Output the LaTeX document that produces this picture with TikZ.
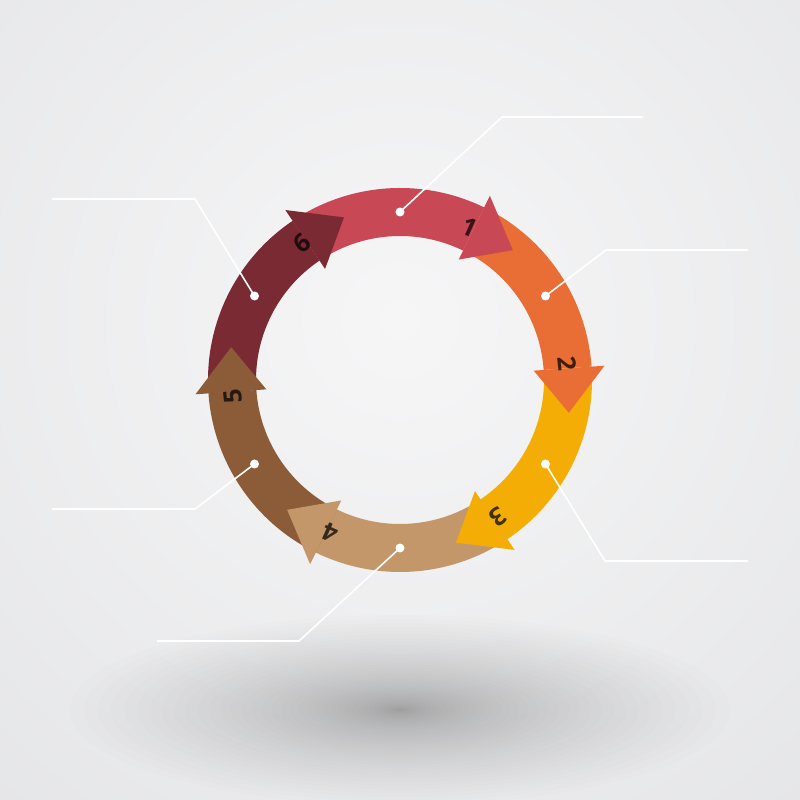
\documentclass[tikz,border=0pt]{standalone}
\usepackage{fontspec}
\newfontfamily\numfont{Open Sans}
\definecolor{bgin}{HTML}{F6F6F7}
\definecolor{bgout}{HTML}{D9DADC}
\definecolor{cA}{HTML}{C94855}
\definecolor{cB}{HTML}{E96E35}
\definecolor{cC}{HTML}{F4AD05}
\definecolor{cD}{HTML}{C4976B}
\definecolor{cE}{HTML}{8C5B38}
\definecolor{cF}{HTML}{7A2A33}
\tikzset{
  dotmark/.style={circle, fill=white, inner sep=0pt, minimum size=9pt},
  leader/.style={draw=white, line width=1.6pt},
  numlabel/.style={text=black, text opacity=0.72, font=\numfont\bfseries\fontsize{25}{25}\selectfont, inner sep=0pt},
  shadowlayer/.style={fill=black, fill opacity=0.0095}
}
\begin{document}
\begin{tikzpicture}[x=1pt,y=1pt]
\useasboundingbox (0,0) rectangle (800,800);
\begin{scope}
\clip (0,0) rectangle (800,800);
\shade[inner color=bgin, outer color=bgout] (400,480) circle (1100);
\foreach \i in {1,...,40}{
  \pgfmathsetmacro{\s}{(\i/40)^1.7}
  \fill[shadowlayer] (400,90) ellipse [x radius=330*\s, y radius=95*\s];
}
\end{scope}
\begin{scope}[shift={(400,420)}]
% bodies
\foreach \b/\c in {64/cA, 4/cB, -56/cC, -116/cD, -176/cE, 124/cF}{
  \fill[\c] (\b+60:192) arc[start angle=\b+60, end angle=\b, radius=192]
     -- (\b:144) arc[start angle=\b, end angle=\b+60, radius=144] -- cycle;
}
% heads
\foreach \b/\c in {64/cA, 4/cB, -56/cC, -116/cD, -176/cE, 124/cF}{
  \fill[\c] (\b:134) -- (\b:205) -- (\b-15:172) -- cycle;
}
% numbers
\node[numlabel, rotate=-24] (n1) at (65.5:168) {1};
\node[numlabel, rotate=-84] (n2) at (5.5:168) {2};
\node[numlabel, rotate=-144] (n3) at (-54.5:168) {3};
\node[numlabel, rotate=156] (n4) at (-114.5:168) {4};
\node[numlabel, rotate=96] (n5) at (-174.5:168) {5};
\node[numlabel, rotate=36] (n6) at (125.5:168) {6};
% dots
\node[dotmark] (d1) at (90:168) {};
\node[dotmark] (d2) at (30:168) {};
\node[dotmark] (d3) at (-30:168) {};
\node[dotmark] (d4) at (-90:168) {};
\node[dotmark] (d5) at (-150:168) {};
\node[dotmark] (d6) at (150:168) {};
\end{scope}
% leader coordinates
\coordinate (e1) at (502,683); \coordinate (f1) at (643,683);
\coordinate (e2) at (606,550); \coordinate (f2) at (748,550);
\coordinate (e3) at (605,239); \coordinate (f3) at (748,239);
\coordinate (e4) at (299,159); \coordinate (f4) at (157,159);
\coordinate (e5) at (195,291); \coordinate (f5) at (52,291);
\coordinate (e6) at (195,601); \coordinate (f6) at (52,601);
\foreach \i in {1,...,6}{
  \draw[leader] (d\i.center) -- (e\i) -- (f\i);
}
\end{tikzpicture}
\end{document}
